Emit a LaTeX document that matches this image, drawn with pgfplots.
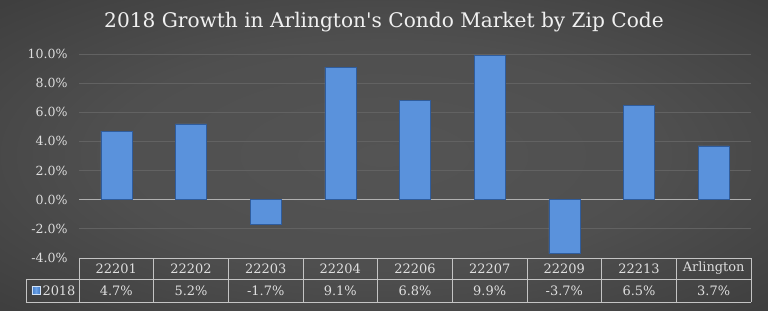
\documentclass[border=0pt]{standalone}
\usepackage{fontspec}
\setmainfont{DejaVu Serif}[Ligatures=TeXOff]
\usepackage{pgfplots}
\pgfplotsset{compat=1.18}
\definecolor{bgin}{HTML}{545454}
\definecolor{bgmid}{HTML}{3C3C3C}
\definecolor{bgout}{HTML}{141414}
\definecolor{gridc}{HTML}{626262}
\definecolor{tblc}{HTML}{C4C4C4}
\definecolor{txtc}{HTML}{DEDEDE}
\definecolor{barL}{HTML}{4078C4}
\definecolor{barM}{HTML}{6AA2E8}
\definecolor{barF}{HTML}{5A92DC}
\definecolor{barE}{HTML}{2F5C9C}
\pgfdeclareradialshading{bgshade}{\pgfpoint{0bp}{0bp}}{color(0bp)=(bgin); color(18bp)=(bgin!80!bgmid); color(38bp)=(bgmid); color(50bp)=(bgout); color(72bp)=(bgout)}
\begin{document}
\begin{tikzpicture}[x=1bp,y=1bp]
\useasboundingbox (0,0) rectangle (768,310);
\shade[shading=bgshade] (0,0) rectangle (768,310);
\node[text=white!94!black, font=\fontsize{20.2}{24}\selectfont] at (384,288) {2018 Growth in Arlington's Condo Market by Zip Code};
\begin{axis}[
  at={(79bp,52bp)}, anchor=south west,
  scale only axis, width=672bp, height=204bp,
  xmin=-0.5, xmax=8.5, ymin=-4, ymax=10,
  ytick={-4,-2,...,10},
  xtick={0,...,8},
  xticklabels={22201,22202,22203,22204,22206,22207,22209,22213,Arlington},
  xticklabel style={anchor=center, yshift=-10.5bp, font=\fontsize{13}{15}\selectfont},
  /pgf/number format/assume math mode=true,
  yticklabel={\pgfmathprintnumber[fixed,fixed zerofill,precision=1]{\tick}\%},
  yticklabel style={xshift=-8bp, font=\fontsize{12.6}{15}\selectfont},
  ticklabel style={text=txtc},
  major tick length=0pt,
  axis line style={draw=none},
  ymajorgrids,
  grid style={gridc, line width=0.8bp},
  clip=false,
]
\draw[tblc!90!black, line width=1.5bp] (axis cs:-0.5,0) -- (axis cs:8.5,0);
\addplot[ybar, bar width=31bp, draw=barE, line width=0.6bp, fill=barF]
  coordinates {(0,4.7) (1,5.2) (2,-1.7) (3,9.1) (4,6.8) (5,9.9) (6,-3.7) (7,6.5) (8,3.7)};
% data table
\draw[tblc, line width=0.9bp] (axis cs:-0.5,-4) -- (axis cs:8.5,-4);
\draw[tblc, line width=0.9bp] ([shift={(-53bp,-21.5bp)}]axis cs:-0.5,-4) -- ([shift={(0bp,-21.5bp)}]axis cs:8.5,-4);
\draw[tblc, line width=0.9bp] ([shift={(-53bp,-44bp)}]axis cs:-0.5,-4) -- ([shift={(0bp,-44bp)}]axis cs:8.5,-4);
\draw[tblc, line width=0.9bp] ([shift={(-53bp,-21.5bp)}]axis cs:-0.5,-4) -- ++(0bp,-22.5bp);
\pgfplotsinvokeforeach{-0.5,0.5,1.5,2.5,3.5,4.5,5.5,6.5,7.5,8.5}{
  \draw[tblc, line width=0.9bp] (axis cs:#1,-4) -- ++(0bp,-44bp);
}
\shade[left color=barL, right color=barL, middle color=barM, draw=white!70!barM, line width=0.4bp] ([shift={(-47bp,-36.5bp)}]axis cs:-0.5,-4) rectangle ++(8bp,8bp);
\node[text=txtc, font=\fontsize{13}{15}\selectfont] at ([shift={(-20bp,-32.5bp)}]axis cs:-0.5,-4) {2018};
\node[text=txtc, font=\fontsize{13}{15}\selectfont] at ([yshift=-32.5bp]axis cs:0,-4) {4.7\%};
\node[text=txtc, font=\fontsize{13}{15}\selectfont] at ([yshift=-32.5bp]axis cs:1,-4) {5.2\%};
\node[text=txtc, font=\fontsize{13}{15}\selectfont] at ([yshift=-32.5bp]axis cs:2,-4) {-1.7\%};
\node[text=txtc, font=\fontsize{13}{15}\selectfont] at ([yshift=-32.5bp]axis cs:3,-4) {9.1\%};
\node[text=txtc, font=\fontsize{13}{15}\selectfont] at ([yshift=-32.5bp]axis cs:4,-4) {6.8\%};
\node[text=txtc, font=\fontsize{13}{15}\selectfont] at ([yshift=-32.5bp]axis cs:5,-4) {9.9\%};
\node[text=txtc, font=\fontsize{13}{15}\selectfont] at ([yshift=-32.5bp]axis cs:6,-4) {-3.7\%};
\node[text=txtc, font=\fontsize{13}{15}\selectfont] at ([yshift=-32.5bp]axis cs:7,-4) {6.5\%};
\node[text=txtc, font=\fontsize{13}{15}\selectfont] at ([yshift=-32.5bp]axis cs:8,-4) {3.7\%};
\end{axis}
\end{tikzpicture}
\end{document}
